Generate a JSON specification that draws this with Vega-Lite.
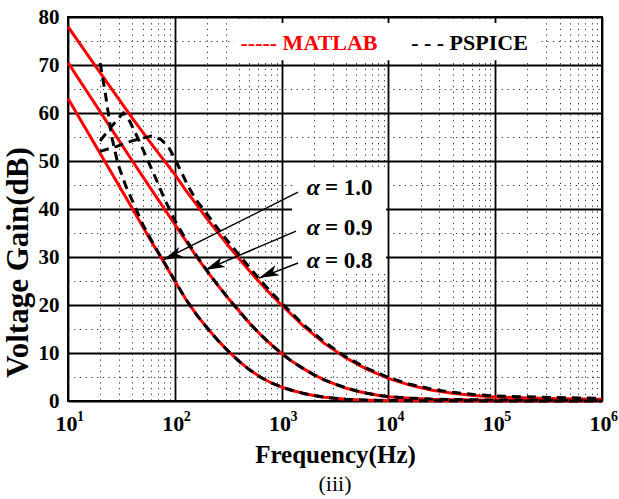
{
  "$schema": "https://vega.github.io/schema/vega-lite/v6.json",
  "width": 534,
  "height": 384,
  "autosize": {"type": "none"},
  "padding": {"left": 68, "top": 17, "right": 17, "bottom": 98},
  "background": "white",
  "config": {
    "view": {"stroke": "black", "strokeWidth": 2},
    "font": "Liberation Serif",
    "axis": {"labelFont": "Liberation Serif", "titleFont": "Liberation Serif", "labelColor": "black", "titleColor": "black"}
  },
  "title": {"text": "(iii)", "orient": "bottom", "font": "Liberation Serif", "fontSize": 22, "fontWeight": "normal", "color": "black", "offset": 7},
  "datasets": {
    "curves": [
      {"src": "MATLAB", "alpha": "1.0", "f": 10, "gain": 63.0},
      {"src": "MATLAB", "alpha": "1.0", "f": 15.85, "gain": 55.4},
      {"src": "MATLAB", "alpha": "1.0", "f": 25.12, "gain": 47.8},
      {"src": "MATLAB", "alpha": "1.0", "f": 39.81, "gain": 40.2},
      {"src": "MATLAB", "alpha": "1.0", "f": 50.12, "gain": 36.3},
      {"src": "MATLAB", "alpha": "1.0", "f": 63.1, "gain": 32.5},
      {"src": "MATLAB", "alpha": "1.0", "f": 79.43, "gain": 28.8},
      {"src": "MATLAB", "alpha": "1.0", "f": 100, "gain": 25.0},
      {"src": "MATLAB", "alpha": "1.0", "f": 125.9, "gain": 21.3},
      {"src": "MATLAB", "alpha": "1.0", "f": 158.5, "gain": 18.1},
      {"src": "MATLAB", "alpha": "1.0", "f": 199.5, "gain": 15.3},
      {"src": "MATLAB", "alpha": "1.0", "f": 251.2, "gain": 12.7},
      {"src": "MATLAB", "alpha": "1.0", "f": 316.2, "gain": 10.4},
      {"src": "MATLAB", "alpha": "1.0", "f": 398.1, "gain": 8.3},
      {"src": "MATLAB", "alpha": "1.0", "f": 501.2, "gain": 6.5},
      {"src": "MATLAB", "alpha": "1.0", "f": 631, "gain": 5.0},
      {"src": "MATLAB", "alpha": "1.0", "f": 794.3, "gain": 3.8},
      {"src": "MATLAB", "alpha": "1.0", "f": 1000, "gain": 2.9},
      {"src": "MATLAB", "alpha": "1.0", "f": 1259, "gain": 2.2},
      {"src": "MATLAB", "alpha": "1.0", "f": 1585, "gain": 1.6},
      {"src": "MATLAB", "alpha": "1.0", "f": 1995, "gain": 1.15},
      {"src": "MATLAB", "alpha": "1.0", "f": 2512, "gain": 0.8},
      {"src": "MATLAB", "alpha": "1.0", "f": 3162, "gain": 0.55},
      {"src": "MATLAB", "alpha": "1.0", "f": 3981, "gain": 0.38},
      {"src": "MATLAB", "alpha": "1.0", "f": 5012, "gain": 0.26},
      {"src": "MATLAB", "alpha": "1.0", "f": 6310, "gain": 0.18},
      {"src": "MATLAB", "alpha": "1.0", "f": 10000, "gain": 0.1},
      {"src": "MATLAB", "alpha": "1.0", "f": 31623, "gain": 0.04},
      {"src": "MATLAB", "alpha": "1.0", "f": 100000, "gain": 0.02},
      {"src": "MATLAB", "alpha": "1.0", "f": 1000000, "gain": 0.01},

      {"src": "MATLAB", "alpha": "0.9", "f": 10, "gain": 70.5},
      {"src": "MATLAB", "alpha": "0.9", "f": 15.85, "gain": 63.7},
      {"src": "MATLAB", "alpha": "0.9", "f": 25.12, "gain": 56.9},
      {"src": "MATLAB", "alpha": "0.9", "f": 39.81, "gain": 50.1},
      {"src": "MATLAB", "alpha": "0.9", "f": 63.1, "gain": 43.4},
      {"src": "MATLAB", "alpha": "0.9", "f": 79.43, "gain": 40.1},
      {"src": "MATLAB", "alpha": "0.9", "f": 100, "gain": 36.8},
      {"src": "MATLAB", "alpha": "0.9", "f": 125.9, "gain": 33.5},
      {"src": "MATLAB", "alpha": "0.9", "f": 158.5, "gain": 30.2},
      {"src": "MATLAB", "alpha": "0.9", "f": 199.5, "gain": 27.1},
      {"src": "MATLAB", "alpha": "0.9", "f": 251.2, "gain": 24.2},
      {"src": "MATLAB", "alpha": "0.9", "f": 316.2, "gain": 21.4},
      {"src": "MATLAB", "alpha": "0.9", "f": 398.1, "gain": 18.8},
      {"src": "MATLAB", "alpha": "0.9", "f": 501.2, "gain": 16.2},
      {"src": "MATLAB", "alpha": "0.9", "f": 631, "gain": 13.9},
      {"src": "MATLAB", "alpha": "0.9", "f": 794.3, "gain": 11.8},
      {"src": "MATLAB", "alpha": "0.9", "f": 1000, "gain": 9.9},
      {"src": "MATLAB", "alpha": "0.9", "f": 1259, "gain": 8.2},
      {"src": "MATLAB", "alpha": "0.9", "f": 1585, "gain": 6.8},
      {"src": "MATLAB", "alpha": "0.9", "f": 1995, "gain": 5.5},
      {"src": "MATLAB", "alpha": "0.9", "f": 2512, "gain": 4.4},
      {"src": "MATLAB", "alpha": "0.9", "f": 3162, "gain": 3.5},
      {"src": "MATLAB", "alpha": "0.9", "f": 3981, "gain": 2.7},
      {"src": "MATLAB", "alpha": "0.9", "f": 5012, "gain": 2.1},
      {"src": "MATLAB", "alpha": "0.9", "f": 6310, "gain": 1.6},
      {"src": "MATLAB", "alpha": "0.9", "f": 7943, "gain": 1.2},
      {"src": "MATLAB", "alpha": "0.9", "f": 10000, "gain": 0.9},
      {"src": "MATLAB", "alpha": "0.9", "f": 15849, "gain": 0.55},
      {"src": "MATLAB", "alpha": "0.9", "f": 25119, "gain": 0.35},
      {"src": "MATLAB", "alpha": "0.9", "f": 39811, "gain": 0.25},
      {"src": "MATLAB", "alpha": "0.9", "f": 100000, "gain": 0.15},
      {"src": "MATLAB", "alpha": "0.9", "f": 1000000, "gain": 0.08},

      {"src": "MATLAB", "alpha": "0.8", "f": 10, "gain": 78.0},
      {"src": "MATLAB", "alpha": "0.8", "f": 15.85, "gain": 71.6},
      {"src": "MATLAB", "alpha": "0.8", "f": 25.12, "gain": 65.3},
      {"src": "MATLAB", "alpha": "0.8", "f": 39.81, "gain": 59.0},
      {"src": "MATLAB", "alpha": "0.8", "f": 63.1, "gain": 53.0},
      {"src": "MATLAB", "alpha": "0.8", "f": 100, "gain": 47.2},
      {"src": "MATLAB", "alpha": "0.8", "f": 125.9, "gain": 44.0},
      {"src": "MATLAB", "alpha": "0.8", "f": 158.5, "gain": 41.0},
      {"src": "MATLAB", "alpha": "0.8", "f": 199.5, "gain": 38.0},
      {"src": "MATLAB", "alpha": "0.8", "f": 251.2, "gain": 35.2},
      {"src": "MATLAB", "alpha": "0.8", "f": 316.2, "gain": 32.4},
      {"src": "MATLAB", "alpha": "0.8", "f": 398.1, "gain": 29.7},
      {"src": "MATLAB", "alpha": "0.8", "f": 501.2, "gain": 27.1},
      {"src": "MATLAB", "alpha": "0.8", "f": 631, "gain": 24.6},
      {"src": "MATLAB", "alpha": "0.8", "f": 794.3, "gain": 22.2},
      {"src": "MATLAB", "alpha": "0.8", "f": 1000, "gain": 20.0},
      {"src": "MATLAB", "alpha": "0.8", "f": 1585, "gain": 15.7},
      {"src": "MATLAB", "alpha": "0.8", "f": 2512, "gain": 12.0},
      {"src": "MATLAB", "alpha": "0.8", "f": 3981, "gain": 9.0},
      {"src": "MATLAB", "alpha": "0.8", "f": 6310, "gain": 6.6},
      {"src": "MATLAB", "alpha": "0.8", "f": 10000, "gain": 4.7},
      {"src": "MATLAB", "alpha": "0.8", "f": 15849, "gain": 3.3},
      {"src": "MATLAB", "alpha": "0.8", "f": 25119, "gain": 2.3},
      {"src": "MATLAB", "alpha": "0.8", "f": 39811, "gain": 1.6},
      {"src": "MATLAB", "alpha": "0.8", "f": 63096, "gain": 1.15},
      {"src": "MATLAB", "alpha": "0.8", "f": 100000, "gain": 0.85},
      {"src": "MATLAB", "alpha": "0.8", "f": 316228, "gain": 0.5},
      {"src": "MATLAB", "alpha": "0.8", "f": 1000000, "gain": 0.35},

      {"src": "PSPICE", "alpha": "1.0", "f": 20, "gain": 70.4},
      {"src": "PSPICE", "alpha": "1.0", "f": 22.4, "gain": 64.0},
      {"src": "PSPICE", "alpha": "1.0", "f": 24.0, "gain": 59.5},
      {"src": "PSPICE", "alpha": "1.0", "f": 25.7, "gain": 55.0},
      {"src": "PSPICE", "alpha": "1.0", "f": 29.4, "gain": 49.3},
      {"src": "PSPICE", "alpha": "1.0", "f": 34.9, "gain": 44.7},
      {"src": "PSPICE", "alpha": "1.0", "f": 40.7, "gain": 41.4},
      {"src": "PSPICE", "alpha": "1.0", "f": 50.12, "gain": 36.8},
      {"src": "PSPICE", "alpha": "1.0", "f": 63.1, "gain": 32.7},
      {"src": "PSPICE", "alpha": "1.0", "f": 79.43, "gain": 28.9},
      {"src": "PSPICE", "alpha": "1.0", "f": 100, "gain": 25.1},
      {"src": "PSPICE", "alpha": "1.0", "f": 125.9, "gain": 21.3},
      {"src": "PSPICE", "alpha": "1.0", "f": 158.5, "gain": 18.1},
      {"src": "PSPICE", "alpha": "1.0", "f": 199.5, "gain": 15.3},
      {"src": "PSPICE", "alpha": "1.0", "f": 251.2, "gain": 12.7},
      {"src": "PSPICE", "alpha": "1.0", "f": 316.2, "gain": 10.4},
      {"src": "PSPICE", "alpha": "1.0", "f": 398.1, "gain": 8.3},
      {"src": "PSPICE", "alpha": "1.0", "f": 501.2, "gain": 6.5},
      {"src": "PSPICE", "alpha": "1.0", "f": 631, "gain": 5.0},
      {"src": "PSPICE", "alpha": "1.0", "f": 794.3, "gain": 3.8},
      {"src": "PSPICE", "alpha": "1.0", "f": 1000, "gain": 2.9},
      {"src": "PSPICE", "alpha": "1.0", "f": 1259, "gain": 2.2},
      {"src": "PSPICE", "alpha": "1.0", "f": 1585, "gain": 1.6},
      {"src": "PSPICE", "alpha": "1.0", "f": 1995, "gain": 1.15},
      {"src": "PSPICE", "alpha": "1.0", "f": 2512, "gain": 0.8},
      {"src": "PSPICE", "alpha": "1.0", "f": 3162, "gain": 0.55},
      {"src": "PSPICE", "alpha": "1.0", "f": 3981, "gain": 0.38},
      {"src": "PSPICE", "alpha": "1.0", "f": 5012, "gain": 0.26},
      {"src": "PSPICE", "alpha": "1.0", "f": 6310, "gain": 0.18},
      {"src": "PSPICE", "alpha": "1.0", "f": 10000, "gain": 0.1},
      {"src": "PSPICE", "alpha": "1.0", "f": 31623, "gain": 0.04},
      {"src": "PSPICE", "alpha": "1.0", "f": 100000, "gain": 0.02},
      {"src": "PSPICE", "alpha": "1.0", "f": 1000000, "gain": 0.01},

      {"src": "PSPICE", "alpha": "0.9", "f": 20, "gain": 54.2},
      {"src": "PSPICE", "alpha": "0.9", "f": 25.12, "gain": 57.0},
      {"src": "PSPICE", "alpha": "0.9", "f": 31.62, "gain": 59.6},
      {"src": "PSPICE", "alpha": "0.9", "f": 33.1, "gain": 60.0},
      {"src": "PSPICE", "alpha": "0.9", "f": 38.0, "gain": 58.2},
      {"src": "PSPICE", "alpha": "0.9", "f": 46.8, "gain": 54.0},
      {"src": "PSPICE", "alpha": "0.9", "f": 50.12, "gain": 52.5},
      {"src": "PSPICE", "alpha": "0.9", "f": 63.1, "gain": 47.5},
      {"src": "PSPICE", "alpha": "0.9", "f": 79.43, "gain": 42.3},
      {"src": "PSPICE", "alpha": "0.9", "f": 100, "gain": 37.6},
      {"src": "PSPICE", "alpha": "0.9", "f": 125.9, "gain": 33.8},
      {"src": "PSPICE", "alpha": "0.9", "f": 158.5, "gain": 30.4},
      {"src": "PSPICE", "alpha": "0.9", "f": 199.5, "gain": 27.2},
      {"src": "PSPICE", "alpha": "0.9", "f": 251.2, "gain": 24.2},
      {"src": "PSPICE", "alpha": "0.9", "f": 316.2, "gain": 21.4},
      {"src": "PSPICE", "alpha": "0.9", "f": 398.1, "gain": 18.8},
      {"src": "PSPICE", "alpha": "0.9", "f": 501.2, "gain": 16.2},
      {"src": "PSPICE", "alpha": "0.9", "f": 631, "gain": 13.9},
      {"src": "PSPICE", "alpha": "0.9", "f": 794.3, "gain": 11.8},
      {"src": "PSPICE", "alpha": "0.9", "f": 1000, "gain": 9.9},
      {"src": "PSPICE", "alpha": "0.9", "f": 1259, "gain": 8.2},
      {"src": "PSPICE", "alpha": "0.9", "f": 1585, "gain": 6.8},
      {"src": "PSPICE", "alpha": "0.9", "f": 1995, "gain": 5.5},
      {"src": "PSPICE", "alpha": "0.9", "f": 2512, "gain": 4.4},
      {"src": "PSPICE", "alpha": "0.9", "f": 3162, "gain": 3.5},
      {"src": "PSPICE", "alpha": "0.9", "f": 3981, "gain": 2.8},
      {"src": "PSPICE", "alpha": "0.9", "f": 5012, "gain": 2.1},
      {"src": "PSPICE", "alpha": "0.9", "f": 6310, "gain": 1.6},
      {"src": "PSPICE", "alpha": "0.9", "f": 7943, "gain": 1.2},
      {"src": "PSPICE", "alpha": "0.9", "f": 10000, "gain": 0.9},
      {"src": "PSPICE", "alpha": "0.9", "f": 15849, "gain": 0.6},
      {"src": "PSPICE", "alpha": "0.9", "f": 25119, "gain": 0.4},
      {"src": "PSPICE", "alpha": "0.9", "f": 39811, "gain": 0.3},
      {"src": "PSPICE", "alpha": "0.9", "f": 100000, "gain": 0.2},
      {"src": "PSPICE", "alpha": "0.9", "f": 1000000, "gain": 0.12},

      {"src": "PSPICE", "alpha": "0.8", "f": 20, "gain": 52.0},
      {"src": "PSPICE", "alpha": "0.8", "f": 28.2, "gain": 53.0},
      {"src": "PSPICE", "alpha": "0.8", "f": 39.8, "gain": 54.2},
      {"src": "PSPICE", "alpha": "0.8", "f": 60.3, "gain": 55.2},
      {"src": "PSPICE", "alpha": "0.8", "f": 74, "gain": 54.5},
      {"src": "PSPICE", "alpha": "0.8", "f": 87, "gain": 53.0},
      {"src": "PSPICE", "alpha": "0.8", "f": 100, "gain": 50.5},
      {"src": "PSPICE", "alpha": "0.8", "f": 117.5, "gain": 47.3},
      {"src": "PSPICE", "alpha": "0.8", "f": 133, "gain": 44.8},
      {"src": "PSPICE", "alpha": "0.8", "f": 158.5, "gain": 41.9},
      {"src": "PSPICE", "alpha": "0.8", "f": 199.5, "gain": 39.0},
      {"src": "PSPICE", "alpha": "0.8", "f": 251.2, "gain": 36.0},
      {"src": "PSPICE", "alpha": "0.8", "f": 316.2, "gain": 33.2},
      {"src": "PSPICE", "alpha": "0.8", "f": 398.1, "gain": 30.5},
      {"src": "PSPICE", "alpha": "0.8", "f": 501.2, "gain": 27.8},
      {"src": "PSPICE", "alpha": "0.8", "f": 631, "gain": 25.2},
      {"src": "PSPICE", "alpha": "0.8", "f": 794.3, "gain": 22.7},
      {"src": "PSPICE", "alpha": "0.8", "f": 1000, "gain": 20.4},
      {"src": "PSPICE", "alpha": "0.8", "f": 1585, "gain": 16.0},
      {"src": "PSPICE", "alpha": "0.8", "f": 2512, "gain": 12.3},
      {"src": "PSPICE", "alpha": "0.8", "f": 3981, "gain": 9.2},
      {"src": "PSPICE", "alpha": "0.8", "f": 6310, "gain": 6.8},
      {"src": "PSPICE", "alpha": "0.8", "f": 10000, "gain": 4.9},
      {"src": "PSPICE", "alpha": "0.8", "f": 15849, "gain": 3.5},
      {"src": "PSPICE", "alpha": "0.8", "f": 25119, "gain": 2.5},
      {"src": "PSPICE", "alpha": "0.8", "f": 39811, "gain": 1.8},
      {"src": "PSPICE", "alpha": "0.8", "f": 63096, "gain": 1.35},
      {"src": "PSPICE", "alpha": "0.8", "f": 100000, "gain": 1.05},
      {"src": "PSPICE", "alpha": "0.8", "f": 316228, "gain": 0.75},
      {"src": "PSPICE", "alpha": "0.8", "f": 1000000, "gain": 0.55}
    ],
    "boxes": [
      {"f1": 358, "f2": 251800, "g1": 71.0, "g2": 78.75},
      {"f1": 1250, "f2": 9510, "g1": 26.5, "g2": 48.5}
    ],
    "arrows": [
      {"lab": "= 1.0", "fl": 2388, "gl": 42.9, "f0": 1426, "g0": 43.5, "f1": 77.5, "g1": 29.4},
      {"lab": "= 0.9", "fl": 2388, "gl": 34.6, "f0": 1365, "g0": 35.4, "f1": 192, "g1": 27.3},
      {"lab": "= 0.8", "fl": 2388, "gl": 27.7, "f0": 1426, "g0": 28.75, "f1": 614, "g1": 25.6}
    ],
    "legend": [
      {"src": "MATLAB", "text": "----- MATLAB", "f": 1806, "g": 73.1},
      {"src": "PSPICE", "text": "- - - PSPICE", "f": 57460, "g": 73.1}
    ]
  },
  "resolve": {"axis": {"x": "independent", "y": "independent"}},
  "layer": [
    {
      "data": {"name": "boxes"},
      "mark": {"type": "rect", "fill": "white"},
      "encoding": {
        "x": {"field": "f1", "type": "quantitative", "scale": {"type": "log", "domain": [10, 1000000]},
          "axis": {"values": [20,30,40,50,60,70,80,90,200,300,400,500,600,700,800,900,2000,3000,4000,5000,6000,7000,8000,9000,20000,30000,40000,50000,60000,70000,80000,90000,200000,300000,400000,500000,600000,700000,800000,900000],
            "grid": true, "gridColor": "#333", "gridDash": [1.2, 4.5], "gridWidth": 1, "labels": false, "ticks": false, "domain": false, "title": null, "orient": "bottom", "zindex": 0}},
        "x2": {"field": "f2"},
        "y": {"field": "g1", "type": "quantitative", "scale": {"domain": [0, 80]},
          "axis": {"values": [5,15,25,35,45,55,65,75], "grid": true, "gridColor": "#333", "gridDash": [1.2, 4.5], "gridWidth": 1, "labels": false, "ticks": false, "domain": false, "title": null, "orient": "left", "zindex": 0}},
        "y2": {"field": "g2"}
      }
    },
    {
      "data": {"name": "curves"},
      "transform": [{"filter": "datum.src === 'MATLAB'"}],
      "mark": {"type": "line", "strokeWidth": 3},
      "encoding": {
        "x": {"field": "f", "type": "quantitative", "scale": {"type": "log", "domain": [10, 1000000]},
          "axis": {"values": [10,100,1000,10000,100000,1000000], "grid": true, "gridColor": "black", "gridWidth": 1.8, "domain": false, "ticks": false,
            "labelExpr": "'10'",
            "labelFontSize": 22, "labelFontWeight": "bold", "labelPadding": 12, "labelOffset": -2, "labelFlush": false,
            "title": "Frequency(Hz)", "titleFontSize": 25, "titleFontWeight": "bold", "titlePadding": 8, "orient": "bottom", "zindex": 0}},
        "y": {"field": "gain", "type": "quantitative", "scale": {"domain": [0, 80]},
          "axis": {"values": [0,10,20,30,40,50,60,70,80], "grid": true, "gridColor": "black", "gridWidth": 1.8, "domain": false, "ticks": false,
            "labelFontSize": 21, "labelFontWeight": "bold", "labelPadding": 9,
            "title": "Voltage Gain(dB)", "titleFontSize": 31, "titleFontWeight": "bold", "titlePadding": 4, "titleY": 245, "orient": "left", "zindex": 0}},
        "color": {"field": "src", "type": "nominal", "scale": {"domain": ["MATLAB", "PSPICE"], "range": ["#ff0000", "#000000"]}, "legend": null},
        "detail": {"field": "alpha"}
      }
    },
    {
      "data": {"name": "curves"},
      "transform": [{"filter": "datum.src === 'PSPICE'"}],
      "mark": {"type": "line", "strokeWidth": 3, "strokeDash": [9, 6]},
      "encoding": {
        "x": {"field": "f", "type": "quantitative",
          "axis": {"values": [10,100,1000,10000,100000,1000000], "grid": false, "domain": false, "ticks": false,
            "labelExpr": "'' + round(log(datum.value)/LN10)",
            "labelFontSize": 14, "labelFontWeight": "bold", "labelPadding": 8, "labelOffset": 12, "labelFlush": false,
            "title": null, "orient": "bottom", "zindex": 0}},
        "y": {"field": "gain", "type": "quantitative", "axis": null},
        "color": {"field": "src", "type": "nominal", "legend": null},
        "detail": {"field": "alpha"}
      }
    },
    {
      "data": {"name": "arrows"},
      "mark": {"type": "rule", "color": "black", "strokeWidth": 1.5},
      "encoding": {
        "x": {"field": "f0", "type": "quantitative", "axis": null},
        "y": {"field": "g0", "type": "quantitative", "axis": null},
        "x2": {"field": "f1"},
        "y2": {"field": "g1"}
      }
    },
    {
      "data": {"name": "arrows"},
      "mark": {"type": "point", "shape": "M0,0 L-1,-0.27 L-0.75,0 L-1,0.27 Z", "filled": true, "color": "black", "opacity": 1, "size": 1600, "angle": 157},
      "encoding": {
        "x": {"field": "f1", "type": "quantitative", "axis": null},
        "y": {"field": "g1", "type": "quantitative", "axis": null}
      }
    },
    {
      "data": {"name": "arrows"},
      "mark": {"type": "text", "text": "α", "align": "right", "baseline": "alphabetic", "dx": -2, "fontSize": 24, "fontStyle": "italic", "fontWeight": "bold", "font": "Liberation Serif", "color": "black"},
      "encoding": {
        "x": {"field": "fl", "type": "quantitative", "axis": null},
        "y": {"field": "gl", "type": "quantitative", "axis": null}
      }
    },
    {
      "data": {"name": "arrows"},
      "mark": {"type": "text", "align": "left", "baseline": "alphabetic", "dx": 3, "fontSize": 23, "fontWeight": "bold", "font": "Liberation Serif", "color": "black"},
      "encoding": {
        "x": {"field": "fl", "type": "quantitative", "axis": null},
        "y": {"field": "gl", "type": "quantitative", "axis": null},
        "text": {"field": "lab"}
      }
    },
    {
      "data": {"name": "legend"},
      "mark": {"type": "text", "align": "center", "baseline": "alphabetic", "fontSize": 22, "fontWeight": "bold", "font": "Liberation Serif"},
      "encoding": {
        "x": {"field": "f", "type": "quantitative", "axis": null},
        "y": {"field": "g", "type": "quantitative", "axis": null},
        "text": {"field": "text"},
        "color": {"field": "src", "type": "nominal", "legend": null}
      }
    }
  ]
}
